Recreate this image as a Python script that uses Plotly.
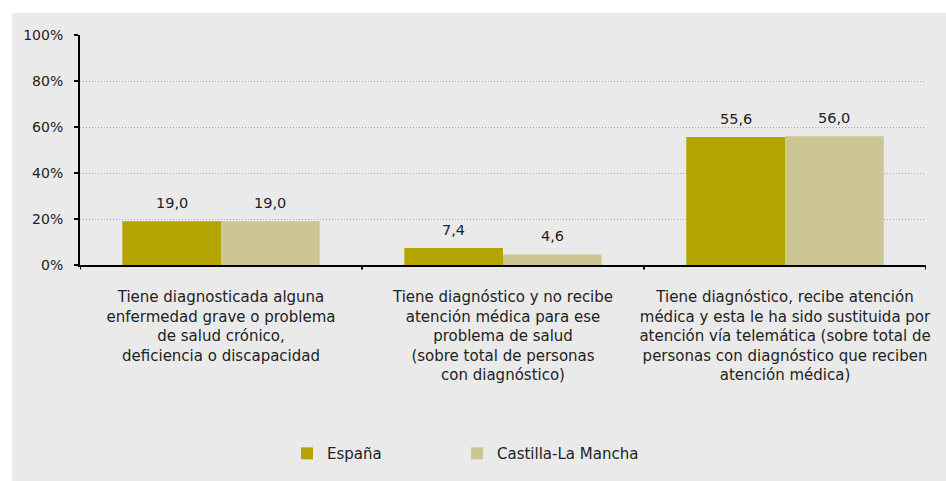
import plotly.graph_objects as go

categories = [
    "Tiene diagnosticada alguna<br>enfermedad grave o problema<br>de salud crónico,<br>deficiencia o discapacidad",
    "Tiene diagnóstico y no recibe<br>atención médica para ese<br>problema de salud<br>(sobre total de personas<br>con diagnóstico)",
    "Tiene diagnóstico, recibe atención<br>médica y esta le ha sido sustituida por<br>atención vía telemática (sobre total de<br>personas con diagnóstico que reciben<br>atención médica)",
]
series_names = ["España", "Castilla-La Mancha"]
espana = [19.0, 7.4, 55.6]
clm = [19.0, 4.6, 56.0]
y_ticks = [0, 20, 40, 60, 80, 100]
y_tick_labels = ["0%", "20%", "40%", "60%", "80%", "100%"]

colors = ["#B5A400", "#CCC594"]
FONT = "DejaVu Sans"
TXT = "#222222"
BG = "#EAEAEA"

fig = go.Figure()
legends = ["legend", "legend2"]
for name, vals, col, lg in zip(series_names, [espana, clm], colors, legends):
    fig.add_trace(go.Bar(
        name=name, x=list(range(len(categories))), y=vals,
        marker=dict(color=col, line=dict(width=0)), legend=lg,
        hoverinfo="skip",
    ))

# value labels above bars
bar_w = (1 - 0.3) / 2
for si, vals in enumerate([espana, clm]):
    off = -bar_w / 2 if si == 0 else bar_w / 2
    for i, v in enumerate(vals):
        fig.add_annotation(
            x=i + off, y=v, text=f"{v:.1f}".replace(".", ","),
            showarrow=False, yanchor="middle", yshift=18,
            font=dict(family=FONT, size=14.5, color=TXT),
        )

# grey background panel
fig.add_shape(type="rect", xref="paper", yref="paper",
              x0=-0.0804, x1=1.05, y0=-1.0, y1=1.0957,
              fillcolor=BG, line=dict(width=0), layer="below")

leg_common = dict(orientation="h", xanchor="left", y=-0.82, yanchor="middle",
                  font=dict(family=FONT, size=15, color=TXT),
                  bgcolor="rgba(0,0,0,0)", itemclick=False)
fig.update_layout(
    width=946, height=481,
    margin=dict(l=80, r=20, t=35, b=216, autoexpand=False),
    paper_bgcolor="white", plot_bgcolor=BG,
    barmode="group", bargap=0.3, bargroupgap=0,
    font=dict(family=FONT, size=15, color=TXT),
    showlegend=True,
    legend=dict(x=0.2447, **leg_common),
    legend2=dict(x=0.4456, **leg_common),
)
fig.update_xaxes(
    type="linear", range=[-0.5, 2.5], automargin=False,
    tickmode="array", tickvals=list(range(len(categories))), ticktext=categories,
    ticks="", ticklabelstandoff=17, showline=True, linecolor="black", linewidth=2,
    showgrid=False, zeroline=False,
    tickfont=dict(family=FONT, size=15, color=TXT),
)
# boundary ticks on x axis
for b in [-0.5, 0.5, 1.5, 2.5]:
    fig.add_shape(type="line", xref="x", yref="paper", x0=b, x1=b, y0=0, y1=-0.02,
                  line=dict(color="black", width=2))
fig.update_yaxes(
    range=[0, 100], tickmode="array", tickvals=y_ticks, ticktext=y_tick_labels,
    ticks="outside", ticklen=4, tickwidth=2, tickcolor="black", automargin=False,
    ticklabelstandoff=8,
    showline=True, linecolor="black", linewidth=2,
    showgrid=True, gridcolor="#A8A8A8", griddash="1px,2px", gridwidth=1,
    zeroline=False, tickfont=dict(family=FONT, size=14, color=TXT),
)
fig.write_html("out.html", config={"displayModeBar": False},
               post_script="document.body.style.margin='0';")
